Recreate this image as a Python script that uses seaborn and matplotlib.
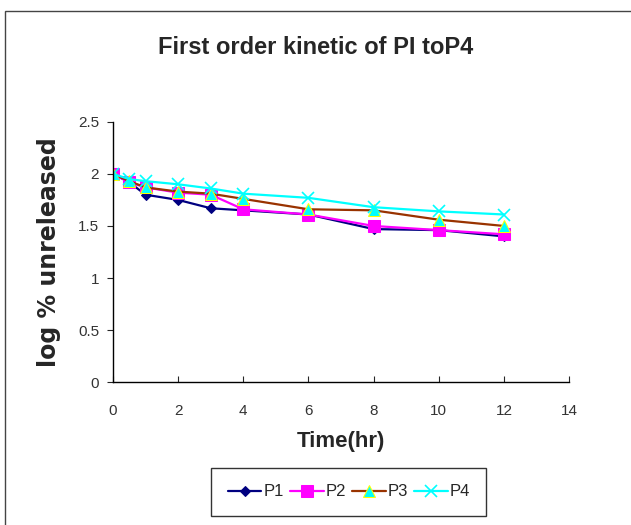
import matplotlib
matplotlib.use('Agg')
import matplotlib.pyplot as plt
import seaborn as sns
from matplotlib.patches import Rectangle

# time points (hr) and log % unreleased for each formulation
time_hr = [0, 0.5, 1, 2, 3, 4, 6, 8, 10, 12]
p1 = [2.00, 1.92, 1.80, 1.75, 1.67, 1.65, 1.61, 1.47, 1.46, 1.40]
p2 = [2.00, 1.92, 1.87, 1.82, 1.80, 1.66, 1.61, 1.50, 1.46, 1.42]
p3 = [2.00, 1.93, 1.87, 1.83, 1.81, 1.76, 1.66, 1.65, 1.56, 1.50]
p4 = [2.00, 1.95, 1.93, 1.90, 1.86, 1.81, 1.77, 1.68, 1.64, 1.61]
names = ['P1', 'P2', 'P3', 'P4']

sns.set_style('ticks')
plt.rcParams['font.family'] = ['Liberation Sans', 'DejaVu Sans']

fig = plt.figure(figsize=(6.31, 5.25), dpi=100)
ax = fig.add_axes([0.179, 0.272, 0.723, 0.496])

styles = [
    dict(color='#000080', marker='D', markersize=5, markerfacecolor='#000080', markeredgecolor='#000080'),
    dict(color='#ff00ff', marker='s', markersize=8, markerfacecolor='#ff00ff', markeredgecolor='#ff00ff'),
    dict(color='#993300', marker='^', markersize=8, markerfacecolor='#00ffff', markeredgecolor='#ffff00'),
    dict(color='#00ffff', marker='x', markersize=9, markeredgecolor='#00ffff', markeredgewidth=1.2),
]
for vals, name, st in zip([p1, p2, p3, p4], names, styles):
    sns.lineplot(x=time_hr, y=vals, ax=ax, label=name, linewidth=1.6, **st)

ax.set_xlim(0, 14)
ax.set_ylim(0, 2.5)
ax.set_xticks(range(0, 15, 2))
ax.set_yticks([0, 0.5, 1, 1.5, 2, 2.5])
ax.set_yticklabels(['0', '0.5', '1', '1.5', '2', '2.5'])
sns.despine(ax=ax)
ax.tick_params(axis='x', direction='in', length=4, pad=16, labelsize=11, labelcolor='#333333')
ax.tick_params(axis='y', direction='out', length=4, pad=6, labelsize=11, labelcolor='#333333')
for s in ax.spines.values():
    s.set_color('black')
    s.set_linewidth(1)

ax.set_xlabel('Time(hr)', fontsize=16, fontweight='bold', labelpad=9)
ax.set_ylabel('log % unreleased', fontsize=17, fontweight='bold', labelpad=12,
              family=['DejaVu Sans'])
fig.text(0.5, 0.91, 'First order kinetic of PI toP4', ha='center', va='center',
         fontsize=17, fontweight='bold')

ax.get_legend().remove()
handles, labels = ax.get_legend_handles_labels()
leg = fig.legend(handles, labels, loc='center', bbox_to_anchor=(0.553, 0.063), ncol=4,
                 frameon=True, fancybox=False, edgecolor='black', fontsize=12,
                 handlelength=2.0, handletextpad=0.1, columnspacing=0.4,
                 borderpad=1.0)
leg.get_frame().set_linewidth(1)

fig.patches.append(Rectangle((0.008, -0.05), 1.1, 1.03, transform=fig.transFigure,
                             fill=False, edgecolor='#444444', linewidth=1))

fig.savefig('out.png', dpi=100)
